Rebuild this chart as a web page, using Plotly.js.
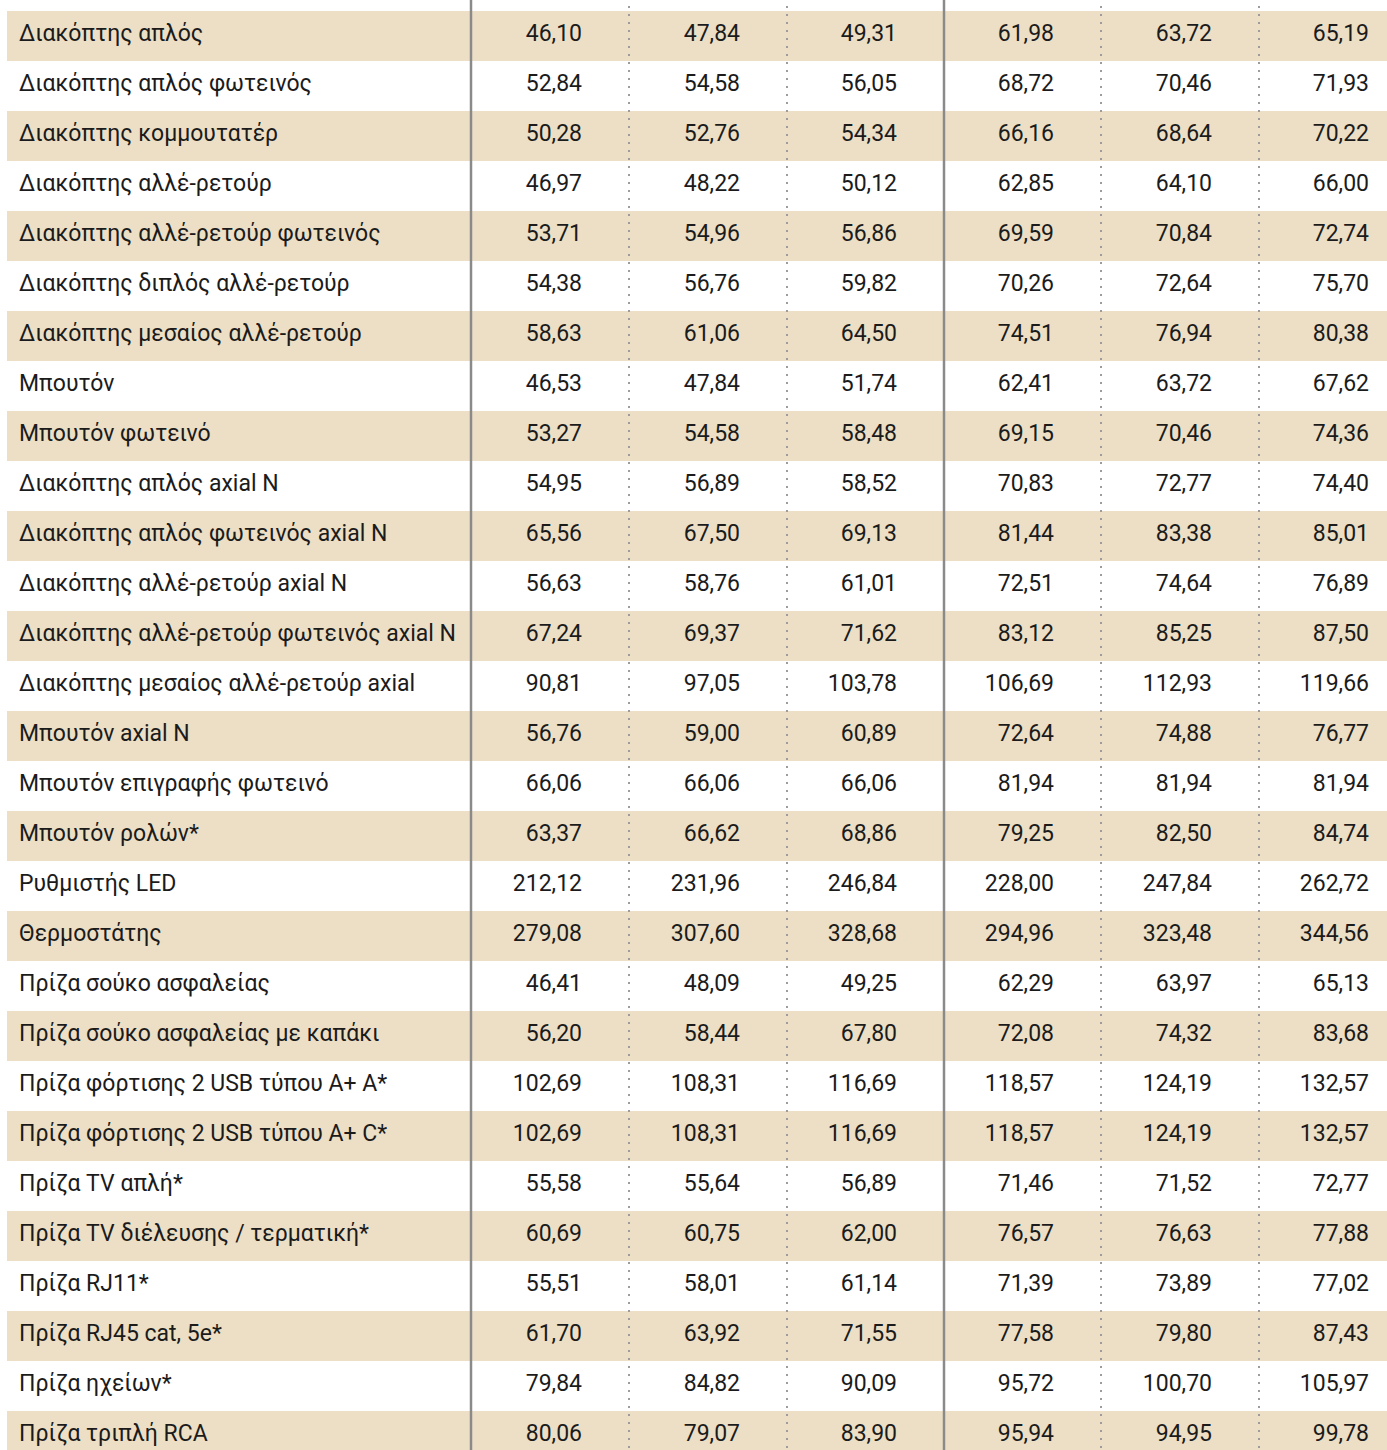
<!DOCTYPE html>
<html>
<head>
<meta charset="utf-8">
<script src="https://cdn.plot.ly/plotly-3.0.1.min.js"></script>
<style>
  html, body { margin: 0; padding: 0; overflow: hidden; background: #ffffff; }
  #chart { width: 1430px; height: 1480px; }
</style>
</head>
<body>
<div id="chart"></div>
<script>
// Product names (first column)
const products = [
  "Διακόπτης απλός",
  "Διακόπτης απλός φωτεινός",
  "Διακόπτης κομμουτατέρ",
  "Διακόπτης αλλέ-ρετούρ",
  "Διακόπτης αλλέ-ρετούρ φωτεινός",
  "Διακόπτης διπλός αλλέ-ρετούρ",
  "Διακόπτης μεσαίος αλλέ-ρετούρ",
  "Μπουτόν",
  "Μπουτόν φωτεινό",
  "Διακόπτης απλός axial N",
  "Διακόπτης απλός φωτεινός axial N",
  "Διακόπτης αλλέ-ρετούρ axial N",
  "Διακόπτης αλλέ-ρετούρ φωτεινός axial N",
  "Διακόπτης μεσαίος αλλέ-ρετούρ axial",
  "Μπουτόν axial N",
  "Μπουτόν επιγραφής φωτεινό",
  "Μπουτόν ρολών*",
  "Ρυθμιστής LED",
  "Θερμοστάτης",
  "Πρίζα σούκο ασφαλείας",
  "Πρίζα σούκο ασφαλείας με καπάκι",
  "Πρίζα φόρτισης 2 USB τύπου A+ A*",
  "Πρίζα φόρτισης 2 USB τύπου A+ C*",
  "Πρίζα TV απλή*",
  "Πρίζα TV διέλευσης / τερματική*",
  "Πρίζα RJ11*",
  "Πρίζα RJ45 cat, 5e*",
  "Πρίζα ηχείων*",
  "Πρίζα τριπλή RCA"
];

// Group A prices (three finishes)
const groupA1 = [46.10,52.84,50.28,46.97,53.71,54.38,58.63,46.53,53.27,54.95,65.56,56.63,67.24,90.81,56.76,66.06,63.37,212.12,279.08,46.41,56.20,102.69,102.69,55.58,60.69,55.51,61.70,79.84,80.06];
const groupA2 = [47.84,54.58,52.76,48.22,54.96,56.76,61.06,47.84,54.58,56.89,67.50,58.76,69.37,97.05,59.00,66.06,66.62,231.96,307.60,48.09,58.44,108.31,108.31,55.64,60.75,58.01,63.92,84.82,79.07];
const groupA3 = [49.31,56.05,54.34,50.12,56.86,59.82,64.50,51.74,58.48,58.52,69.13,61.01,71.62,103.78,60.89,66.06,68.86,246.84,328.68,49.25,67.80,116.69,116.69,56.89,62.00,61.14,71.55,90.09,83.90];

// Group B prices (three finishes)
const groupB1 = [61.98,68.72,66.16,62.85,69.59,70.26,74.51,62.41,69.15,70.83,81.44,72.51,83.12,106.69,72.64,81.94,79.25,228.00,294.96,62.29,72.08,118.57,118.57,71.46,76.57,71.39,77.58,95.72,95.94];
const groupB2 = [63.72,70.46,68.64,64.10,70.84,72.64,76.94,63.72,70.46,72.77,83.38,74.64,85.25,112.93,74.88,81.94,82.50,247.84,323.48,63.97,74.32,124.19,124.19,71.52,76.63,73.89,79.80,100.70,94.95];
const groupB3 = [65.19,71.93,70.22,66.00,72.74,75.70,80.38,67.62,74.36,74.40,85.01,76.89,87.50,119.66,76.77,81.94,84.74,262.72,344.56,65.13,83.68,132.57,132.57,72.77,77.88,77.02,87.43,105.97,99.78];

const valueColumns = [groupA1, groupA2, groupA3, groupB1, groupB2, groupB3];

// ---- styling ----
const W = 1430, H = 1480;
const leftGap = 7;          // white gap before the striped band
const labelW = 464;         // first column width
const numW = [158, 158, 157, 157, 158, 157];
const numTotal = numW.reduce((a, b) => a + b, 0);
const colWidths = [labelW].concat(numW);
const tableW = labelW + numTotal;
const rowH = 50;
const headH = 11;           // visible part of the (cropped) header
const textDrop = 5;         // extra vertical offset of the text inside rows
const labelShift = 4;       // labels sit a little right of the band edge
const numInset = 39;        // numbers end ~47px before their column's right edge
const beige = "#ecdfc5";
const textColor = "#1b1b1b";
const fontSpec = { family: "Roboto, 'Noto Sans', sans-serif", size: 23, color: textColor };
const clear = "rgba(0,0,0,0)";
const noLine = { width: 0, color: clear };

const fmt = v => v.toFixed(2).replace(".", ",");

const rowFill = products.map((_, i) => (i % 2 === 0 ? beige : "#ffffff"));

function header(n, h, fillColor) {
  return {
    values: Array.from({ length: n }, () => ""),
    height: h,
    fill: { color: fillColor },
    line: noLine,
    font: { size: 4, color: clear }
  };
}

// striped band layer (no text)
const bandTrace = {
  type: "table",
  domain: { x: [leftGap / W, (leftGap + tableW) / W], y: [0, 1] },
  columnwidth: colWidths,
  header: header(colWidths.length, headH, "#ffffff"),
  cells: {
    values: colWidths.map(() => products.map(() => "")),
    height: rowH,
    fill: { color: colWidths.map(() => rowFill) },
    line: noLine,
    font: fontSpec
  }
};

// label text layer
const x0Label = leftGap + labelShift;
const labelTrace = {
  type: "table",
  domain: { x: [x0Label / W, (x0Label + labelW) / W], y: [0, 1] },
  columnwidth: [labelW],
  header: header(1, headH + textDrop, clear),
  cells: {
    values: [products],
    height: rowH,
    align: "left",
    fill: { color: clear },
    line: noLine,
    font: fontSpec
  }
};

// number text layer
const x0Num = leftGap + labelW - numInset;
const numberTrace = {
  type: "table",
  domain: { x: [x0Num / W, (x0Num + numTotal) / W], y: [0, 1] },
  columnwidth: numW,
  header: header(numW.length, headH + textDrop, clear),
  cells: {
    values: valueColumns.map(col => col.map(fmt)),
    height: rowH,
    align: "right",
    fill: { color: clear },
    line: noLine,
    font: fontSpec
  }
};

// vertical separators at column boundaries
const bounds = [];
let acc = leftGap;
colWidths.forEach(w => { acc += w; bounds.push(acc); });
const shapes = [];
bounds.slice(0, 6).forEach((bx, i) => {
  const solid = (i === 0 || i === 3);
  shapes.push({
    type: "line", xref: "paper", yref: "paper",
    x0: bx / W, x1: bx / W, y0: 0, y1: 1,
    layer: "above",
    line: solid ? { color: "#8a8a8a", width: 2.5 } : { color: "#9c9c9c", width: 2, dash: "2px,6px" }
  });
});

const layout = {
  width: W, height: H,
  margin: { l: 0, r: 0, t: 0, b: 0, pad: 0 },
  paper_bgcolor: "#ffffff",
  shapes: shapes,
  showlegend: false
};

Plotly.newPlot("chart", [bandTrace, labelTrace, numberTrace], layout, { displayModeBar: false, staticPlot: true });
</script>
</body>
</html>
